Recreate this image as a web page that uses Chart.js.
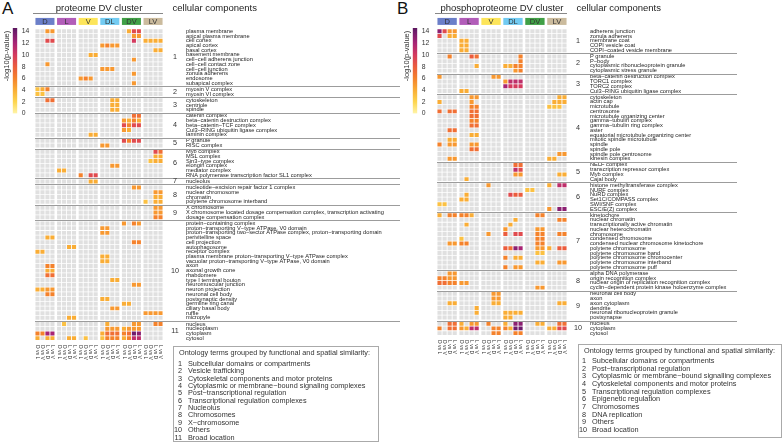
<!DOCTYPE html>
<html>
<head>
<meta charset="utf-8">
<script src="https://cdn.jsdelivr.net/npm/chart.js@4.4.1/dist/chart.umd.min.js"></script>
<style>
  body { margin: 0; width: 782px; height: 442px; position: relative; overflow: hidden; background: #fff;
         font-family: "Liberation Sans", Arial, sans-serif; color: #333; }
  canvas { position: absolute; }
  .letter { position: absolute; top: -1px; font-size: 17px; color: #111; }
  .legend { position: absolute; border: 1px solid #aaa; box-sizing: border-box; font-size: 7.3px; color: #333; }
  .legend .t { position: absolute; left: 5px; top: 1px; line-height: 10px; white-space: nowrap; }
  .legend .it { position: absolute; left: 0; line-height: 8px; white-space: nowrap; }
  .legend .n { display: inline-block; text-align: right; }
</style>
</head>
<body>
<div class="letter" style="left:2px">A</div>
<div class="letter" style="left:397px">B</div>
<canvas id="heatA" width="400" height="370" style="left:0;top:0"></canvas>
<canvas id="heatB" width="382" height="370" style="left:400px;top:0"></canvas>
<canvas id="barA" width="40" height="104" style="left:0;top:18px"></canvas>
<canvas id="barB" width="40" height="104" style="left:400px;top:18px"></canvas>
<div class="legend" id="legA" style="left:173px;top:346px;width:206px;height:96px"></div>
<div class="legend" id="legB" style="left:578px;top:344px;width:204px;height:94px"></div>
<script>
const FONT = '"Liberation Sans", Arial, sans-serif';
const _ = null;

// clusters and the four comparisons under each cluster
const CLUSTERS = ['D', 'L', 'V', 'DL', 'DV', 'LV'];
const CLUSTER_FILL = ['#6b7fc9', '#b25db9', '#fde55a', '#72cbf2', '#40a046', '#cbbb9d'];
const SUB_LABELS = ['D vs L', 'D vs V', 'L vs D', 'L vs V'];
const COLUMN_LABELS = CLUSTERS.flatMap(() => SUB_LABELS);

// colour bar
const CB_TICKS = [0, 2, 4, 6, 8, 10, 12, 14];
const CB_MAX = 14.6;
const COLOR_STOPS = [
  [0, '#fff4a8'], [2, '#fdd54f'], [4, '#f9ad36'], [6, '#f4822c'], [8, '#eb5c3d'],
  [10, '#d43a5e'], [12, '#a82475'], [14, '#6e1c6c'], [14.6, '#5a165c']
];

// ---------- proteome (A) ----------
const GROUPS_A = [12, 2, 3, 5, 2, 6, 1, 4, 3, 21, 4];
const TERMS_A = [
  'plasma membrane', 'apical plasma membrane', 'cell cortex', 'apical cortex', 'basal cortex', 'basement membrane',
  'cell\u2212cell adherens junction', 'cell\u2212cell contact zone', 'cell\u2212cell junction', 'zonula adherens', 'endosome', 'subapical complex',
  'myosin V complex', 'myosin VI complex',
  'cytoskeleton', 'centriole', 'spindle',
  'catenin complex', 'beta\u2212catenin destruction complex', 'beta\u2212catenin\u2212TCF complex', 'Cul3\u2212RING ubiquitin ligase complex', 'laminin complex',
  'P granule', 'RISC complex',
  'Myb complex', 'MSL complex', 'Sin3\u2212type complex', 'elongin complex', 'mediator complex', 'RNA polymerase transcription factor SL1 complex',
  'nucleolus',
  'nucleotide\u2212excision repair factor 1 complex', 'nuclear chromosome', 'chromatin', 'polytene chromosome interband',
  'X chromosome', 'X chromosome located dosage compensation complex, transcription activating', 'dosage compensation complex',
  'protein\u2212containing complex', 'proton\u2212transporting V\u2212type ATPase, V0 domain',
  'proton\u2212transporting two\u2212sector ATPase complex, proton\u2212transporting domain', 'perivitelline space', 'cell projection',
  'autophagosome', 'receptor complex', 'plasma membrane proton\u2212transporting V\u2212type ATPase complex',
  'vacuolar proton\u2212transporting V\u2212type ATPase, V0 domain', 'axon', 'axonal growth cone', 'rhabdomere', 'type I terminal bouton',
  'neuromuscular junction', 'neuron projection', 'neuronal cell body', 'postsynaptic density', 'germline ring canal',
  'ciliary basal body', 'ruffle', 'micropyle',
  'nucleus', 'nucleoplasm', 'cytoplasm', 'cytosol'
];
// [term, cluster, values of the four comparisons] ; null = not enriched (grey)
const HITS_A = [
  ['plasma membrane', 'D', [_, _, 5, 5]], ['plasma membrane', 'DV', [_, 4, 9, 9]],
  ['apical plasma membrane', 'DV', [_, _, 5, 5]],
  ['cell cortex', 'D', [_, _, 9, 9]], ['cell cortex', 'DV', [_, _, 10, _]], ['cell cortex', 'LV', [4, 4, 4, 4]],
  ['apical cortex', 'DL', [5, 6, 5, 5]],
  ['basal cortex', 'LV', [_, _, 4, 4]],
  ['basement membrane', 'V', [_, _, 4, 4]],
  ['cell\u2212cell adherens junction', 'DV', [_, _, 5, _]],
  ['cell\u2212cell contact zone', 'D', [_, _, 5, _]],
  ['cell\u2212cell junction', 'DL', [5, 5, 5, _]],
  ['zonula adherens', 'DV', [_, _, 5, _]],
  ['endosome', 'V', [5, 6, 5, _]],
  ['subapical complex', 'DV', [_, _, 5, _]],
  ['myosin V complex', 'D', [3, 4, 6, _]],
  ['myosin VI complex', 'D', [3, 3, _, _]],
  ['cytoskeleton', 'D', [_, _, 7, 7]], ['cytoskeleton', 'DL', [_, _, 4, 4]],
  ['centriole', 'DL', [_, _, 4, 4]],
  ['spindle', 'DL', [_, _, 4, 4]],
  ['catenin complex', 'DV', [_, _, 7, 7]],
  ['beta\u2212catenin destruction complex', 'DV', [5, 4, 6, 4]],
  ['beta\u2212catenin\u2212TCF complex', 'DV', [9, 6, 9, 9]],
  ['Cul3\u2212RING ubiquitin ligase complex', 'DV', [5, 4, _, _]],
  ['laminin complex', 'V', [_, _, 4, 4]],
  ['P granule', 'DV', [9, 6, 9, 9]],
  ['RISC complex', 'DL', [5, 5, _, _]],
  ['Myb complex', 'LV', [_, _, 9, 7]],
  ['MSL complex', 'LV', [_, _, 4, 4]],
  ['Sin3\u2212type complex', 'LV', [_, 3, 4, 4]],
  ['elongin complex', 'DL', [_, _, 5, 5]],
  ['mediator complex', 'L', [4, 4, _, _]],
  ['RNA polymerase transcription factor SL1 complex', 'V', [6, _, 9, 9]],
  ['nucleolus', 'V', [_, _, 4, 4]],
  ['nucleotide\u2212excision repair factor 1 complex', 'DV', [_, _, 5, 5]],
  ['nuclear chromosome', 'LV', [_, _, 5, 5]],
  ['chromatin', 'LV', [_, _, 4, 4]],
  ['polytene chromosome interband', 'LV', [3, _, 4, 4]],
  ['X chromosome', 'LV', [_, _, 5, 5]],
  ['X chromosome located dosage compensation complex, transcription activating', 'LV', [_, _, 5, 5]],
  ['dosage compensation complex', 'LV', [_, _, 6, 6]],
  ['protein\u2212containing complex', 'DV', [5, _, 6, 5]],
  ['proton\u2212transporting V\u2212type ATPase, V0 domain', 'DL', [5, 5, _, _]],
  ['proton\u2212transporting two\u2212sector ATPase complex, proton\u2212transporting domain', 'DL', [5, 5, _, _]],
  ['perivitelline space', 'D', [_, _, 4, 4]],
  ['cell projection', 'DV', [_, _, 6, 6]],
  ['autophagosome', 'L', [_, _, 4, 4]],
  ['receptor complex', 'D', [4, 4, _, _]],
  ['plasma membrane proton\u2212transporting V\u2212type ATPase complex', 'DL', [4, 4, _, _]],
  ['vacuolar proton\u2212transporting V\u2212type ATPase, V0 domain', 'DL', [4, 4, _, _]],
  ['axon', 'D', [_, _, 6, 6]],
  ['axonal growth cone', 'D', [_, _, 4, 4]],
  ['rhabdomere', 'D', [_, _, 7, 7]],
  ['type I terminal bouton', 'DL', [_, _, 4, 4]],
  ['neuromuscular junction', 'DV', [_, _, 5, 5]],
  ['neuron projection', 'D', [4, 4, 5, 5]],
  ['neuronal cell body', 'D', [_, _, 6, 6]],
  ['postsynaptic density', 'DL', [4, 4, _, _]],
  ['germline ring canal', 'DV', [4, 4, _, _]],
  ['ciliary basal body', 'DL', [_, _, 5, 5]],
  ['ruffle', 'LV', [5, 5, 5, 5]],
  ['micropyle', 'L', [_, _, 4, 4]],
  ['nucleus', 'L', [_, 3, _, _]], ['nucleus', 'DL', [_, 4, _, _]], ['nucleus', 'DV', [_, _, 5, 5]], ['nucleus', 'LV', [_, _, 6, 6]],
  ['nucleoplasm', 'DL', [_, 5, 5, 5]], ['nucleoplasm', 'DV', [4, 5, 5, 5]],
  ['cytoplasm', 'D', [6, 6, 12, 12]], ['cytoplasm', 'DL', [4, 7, 7, 7]], ['cytoplasm', 'DV', [6, 7, 14, 13]],
  ['cytosol', 'D', [4, _, 4, 4]], ['cytosol', 'L', [_, _, 4, 4]], ['cytosol', 'V', [_, 3, _, _]],
  ['cytosol', 'DL', [3, 6, 6, 6]], ['cytosol', 'DV', [4, 6, 11, 11]]
];
const LEGEND_A = [
  'Subcellular domains or compartments', 'Vesicle trafficking', 'Cytoskeletal components and motor proteins',
  'Cytoplasmic or membrane\u2212bound signaling complexes', 'Post\u2212transcriptional regulation',
  'Transcriptional regulation complexes', 'Nucleolus', 'Chromosomes', 'X\u2212chromosome', 'Others', 'Broad location'
];

// ---------- phosphoproteome (B) ----------
const GROUPS_B = [5, 4, 4, 14, 4, 6, 12, 4, 6, 3];
const TERMS_B = [
  'adherens junction', 'zonula adherens', 'membrane coat', 'COPI vesicle coat', 'COPI\u2212coated vesicle membrane',
  'P granule', 'P\u2212body', 'cytoplasmic ribonucleoprotein granule', 'cytoplasmic stress granule',
  'beta\u2212catenin destruction complex', 'TORC1 complex', 'TORC2 complex', 'Cul3\u2212RING ubiquitin ligase complex',
  'cytoskeleton', 'actin cap', 'microtubule', 'centrosome', 'microtubule organizing center', 'gamma\u2212tubulin complex',
  'gamma\u2212tubulin ring complex', 'aster', 'equatorial microtubule organizing center', 'mitotic spindle microtubule',
  'spindle', 'spindle pole', 'spindle pole centrosome', 'kinesin complex',
  'NELF complex', 'transcription repressor complex', 'Myb complex', 'Cajal body',
  'histone methyltransferase complex', 'NURF complex', 'NuRD complex', 'Set1C/COMPASS complex', 'SWI/SNF complex', 'ESC/E(Z) complex',
  'kinetochore', 'nuclear chromatin', 'transcriptionally active chromatin', 'nuclear heterochromatin', 'chromosome',
  'condensed chromosome', 'condensed nuclear chromosome kinetochore', 'polytene chromosome', 'polytene chromosome band',
  'polytene chromosome chromocenter', 'polytene chromosome interband', 'polytene chromosome puff',
  'alpha DNA polymerase', 'origin recognition complex', 'nuclear origin of replication recognition complex',
  'cyclin\u2212dependent protein kinase holoenzyme complex',
  'neuronal cell body', 'axon', 'axon cytoplasm', 'dendrite', 'neuronal ribonucleoprotein granule', 'postsynapse',
  'nucleus', 'cytoplasm', 'cytosol'
];
const HITS_B = [
  ['adherens junction', 'D', [13, 9, 5, 5]],
  ['zonula adherens', 'D', [9, _, 4, 4]],
  ['membrane coat', 'L', [4, 4, _, _]],
  ['COPI vesicle coat', 'L', [4, 4, _, _]],
  ['COPI\u2212coated vesicle membrane', 'L', [4, 4, _, _]],
  ['P granule', 'D', [_, _, 6, _]], ['P granule', 'L', [_, _, 8, 7]], ['P granule', 'DL', [_, _, _, 6]],
  ['P\u2212body', 'DL', [_, _, _, 6]],
  ['cytoplasmic ribonucleoprotein granule', 'L', [_, _, _, 4]], ['cytoplasmic ribonucleoprotein granule', 'DL', [4, 4, 6, 6]],
  ['cytoplasmic stress granule', 'DL', [_, _, 5, 6]],
  ['beta\u2212catenin destruction complex', 'D', [5, _, _, _]], ['beta\u2212catenin destruction complex', 'V', [_, _, 5, 5]],
  ['TORC1 complex', 'DL', [5, 11, 11, 11]],
  ['TORC2 complex', 'DL', [12, 10, 10, 10]],
  ['Cul3\u2212RING ubiquitin ligase complex', 'L', [4, 4, _, _]],
  ['cytoskeleton', 'L', [_, _, 5, 5]], ['cytoskeleton', 'LV', [_, _, 4, 4]],
  ['actin cap', 'D', [4, _, _, _]], ['actin cap', 'L', [_, _, 5, _]], ['actin cap', 'LV', [_, 4, 4, 4]],
  ['microtubule', 'L', [_, _, 6, 6]], ['microtubule', 'LV', [3, 3, 3, _]],
  ['centrosome', 'D', [7, _, 7, 7]], ['centrosome', 'L', [_, _, 7, 7]],
  ['microtubule organizing center', 'L', [_, _, 7, 7]],
  ['gamma\u2212tubulin complex', 'L', [_, _, 6, 6]],
  ['gamma\u2212tubulin ring complex', 'L', [_, _, 7, 7]],
  ['aster', 'D', [_, _, 7, 7]],
  ['equatorial microtubule organizing center', 'L', [_, _, 4, 4]],
  ['mitotic spindle microtubule', 'D', [_, _, 4, 4]],
  ['spindle', 'D', [6, _, 5, 5]], ['spindle', 'L', [_, _, 5, 5]],
  ['spindle pole', 'L', [_, _, 7, 7]],
  ['spindle pole centrosome', 'LV', [_, _, 5, 5]],
  ['kinesin complex', 'D', [_, _, 5, 5]], ['kinesin complex', 'LV', [4, 4, _, _]],
  ['NELF complex', 'DL', [_, _, 7, 7]],
  ['transcription repressor complex', 'DL', [_, _, 11, 9]],
  ['Myb complex', 'DL', [_, _, 5, 5]], ['Myb complex', 'LV', [_, _, 4, 4]],
  ['Cajal body', 'L', [_, 4, _, _]],
  ['histone methyltransferase complex', 'V', [_, 5, _, _]], ['histone methyltransferase complex', 'LV', [4, _, 11, 11]],
  ['NURF complex', 'DV', [3, 3, _, _]],
  ['NuRD complex', 'L', [_, 4, _, _]], ['NuRD complex', 'DL', [_, 9, 8, 8]],
  ['Set1C/COMPASS complex', 'L', [4, 4, _, _]],
  ['SWI/SNF complex', 'D', [3, 3, _, _]],
  ['ESC/E(Z) complex', 'LV', [5, _, 13, 13]],
  ['kinetochore', 'D', [4, _, 6, 6]], ['kinetochore', 'L', [6, 6, 4, _]], ['kinetochore', 'DV', [_, _, 6, 6]],
  ['nuclear chromatin', 'DL', [_, _, 4, _]], ['nuclear chromatin', 'LV', [_, _, 6, 6]],
  ['transcriptionally active chromatin', 'L', [_, 4, _, _]], ['transcriptionally active chromatin', 'DL', [_, 4, _, _]],
  ['nuclear heterochromatin', 'DL', [5, _, _, _]], ['nuclear heterochromatin', 'DV', [_, _, 5, 5]],
  ['chromosome', 'V', [_, 5, _, _]], ['chromosome', 'DL', [8, _, 9, 9]], ['chromosome', 'DV', [_, _, 6, 6]], ['chromosome', 'LV', [_, _, 6, 6]],
  ['condensed chromosome', 'L', [3, _, _, _]], ['condensed chromosome', 'DV', [_, _, 6, 6]],
  ['condensed nuclear chromosome kinetochore', 'D', [_, _, 5, 5]], ['condensed nuclear chromosome kinetochore', 'L', [6, 6, _, _]],
  ['condensed nuclear chromosome kinetochore', 'DV', [_, _, 6, 6]],
  ['polytene chromosome', 'DL', [8, 7, 13, 12]], ['polytene chromosome', 'DV', [_, _, 5, 5]], ['polytene chromosome', 'LV', [4, _, 8, 8]],
  ['polytene chromosome band', 'DV', [_, _, 3, 3]],
  ['polytene chromosome chromocenter', 'DL', [6, _, 4, 4]],
  ['polytene chromosome interband', 'DV', [_, _, 4, 4]], ['polytene chromosome interband', 'LV', [_, _, 5, 5]],
  ['polytene chromosome puff', 'DL', [6, _, 5, 5]],
  ['alpha DNA polymerase', 'D', [_, _, 5, 5]],
  ['origin recognition complex', 'D', [6, 6, 5, 5]],
  ['nuclear origin of replication recognition complex', 'D', [7, 7, 6, 6]], ['nuclear origin of replication recognition complex', 'L', [5, 5, _, _]],
  ['cyclin\u2212dependent protein kinase holoenzyme complex', 'DV', [_, _, 5, 5]],
  ['neuronal cell body', 'V', [_, _, 5, 5]],
  ['axon', 'V', [_, _, 5, 5]],
  ['axon cytoplasm', 'D', [_, _, 4, 4]], ['axon cytoplasm', 'V', [_, _, 4, 4]], ['axon cytoplasm', 'LV', [_, _, 4, 4]],
  ['dendrite', 'L', [_, _, _, 4]],
  ['neuronal ribonucleoprotein granule', 'L', [_, _, _, 4]], ['neuronal ribonucleoprotein granule', 'DL', [4, 4, 4, 4]],
  ['postsynapse', 'DL', [4, 4, _, _]],
  ['nucleus', 'D', [_, _, 7, 7]], ['nucleus', 'L', [4, _, 5, 5]], ['nucleus', 'V', [_, 6, _, _]],
  ['nucleus', 'DL', [4, _, 13, 13]], ['nucleus', 'DV', [_, _, 4, 4]], ['nucleus', 'LV', [_, _, 7, 7]],
  ['cytoplasm', 'D', [6, _, 7, 7]], ['cytoplasm', 'L', [5, 4, 11, 11]], ['cytoplasm', 'V', [_, _, 6, 6]],
  ['cytoplasm', 'DL', [6, 4, 14, 14]], ['cytoplasm', 'LV', [4, 4, 9, 9]],
  ['cytosol', 'V', [_, _, 6, 6]], ['cytosol', 'DL', [_, _, 6, 6]]
];
const LEGEND_B = [
  'Subcellular domains or compartments', 'Post\u2212transcriptional regulation',
  'Cytoplasmic or membrane\u2212bound signalling complexes', 'Cytoskeletal components and motor proteins',
  'Transcriptional regulation complexes', 'Epigenetic regulation', 'Chromosomes', 'DNA replication', 'Others', 'Broad location'
];

// ---------- helpers ----------
const GREY = '#e0e0e0';
const GROUP_GAP = 0.3;      // extra space between ontology groups (in rows)
const CLUSTER_PITCH = 4.34; // column units per cluster (4 cells + gap)
const HALF = 0.41;          // half cell width in column units

function hexToRgb(h) {
  const n = parseInt(h.slice(1), 16);
  return [(n >> 16) & 255, (n >> 8) & 255, n & 255];
}
function cellColor(v) {
  if (v === null || v === undefined) return GREY;
  for (let i = 1; i < COLOR_STOPS.length; i++) {
    const [v1, c1] = COLOR_STOPS[i];
    const [v0, c0] = COLOR_STOPS[i - 1];
    if (v <= v1) {
      const t = (v - v0) / (v1 - v0);
      const a = hexToRgb(c0), b = hexToRgb(c1);
      const m = a.map((x, k) => Math.round(x + (b[k] - x) * t));
      return `rgb(${m[0]},${m[1]},${m[2]})`;
    }
  }
  return COLOR_STOPS[COLOR_STOPS.length - 1][1];
}
function buildMatrix(terms, hits) {
  const m = terms.map(() => COLUMN_LABELS.map(() => null));
  hits.forEach(([term, cl, vals]) => {
    const i = terms.indexOf(term);
    const k = CLUSTERS.indexOf(cl);
    if (i < 0 || k < 0) { console.warn('unknown', term, cl); return; }
    vals.forEach((v, j) => { if (v !== null) m[i][k * 4 + j] = v; });
  });
  return m;
}

function drawHeatmap(id, cfg) {
  const { terms, groups, matrix } = cfg;
  const rowPos = [];
  let p = 0;
  groups.forEach(n => { for (let i = 0; i < n; i++) rowPos.push(p++); p += GROUP_GAP; });
  const colPos = COLUMN_LABELS.map((lab, c) => Math.floor(c / 4) * CLUSTER_PITCH + (c % 4));

  const datasets = colPos.map((cx, c) => ({
    data: terms.map((t, i) => ({ y: rowPos[i], x: [cx - HALF, cx + HALF] })),
    backgroundColor: terms.map((t, i) => cellColor(matrix[i][c])),
    borderWidth: 0
  }));

  const deco = {
    id: 'deco',
    afterDraw(chart) {
      const { ctx, chartArea: a, scales: { x, y } } = chart;
      ctx.save();
      // separators and group numbers
      let start = 0;
      groups.forEach((n, g) => {
        const first = rowPos[start], last = rowPos[start + n - 1];
        ctx.fillStyle = '#333';
        ctx.font = `7.2px ${FONT}`;
        ctx.textAlign = 'center';
        ctx.textBaseline = 'middle';
        ctx.fillText(String(g + 1), a.right + cfg.numOffset, y.getPixelForValue((first + last) / 2));
        if (g < groups.length - 1) {
          const yy = Math.round(y.getPixelForValue(last + 0.5 + GROUP_GAP / 2)) + 0.5;
          ctx.strokeStyle = '#9c9c9c';
          ctx.lineWidth = 1;
          ctx.beginPath(); ctx.moveTo(a.left, yy); ctx.lineTo(cfg.lineEnd, yy); ctx.stroke();
        }
        start += n;
      });
      // cluster header boxes
      CLUSTERS.forEach((cl, k) => {
        const x0 = x.getPixelForValue(colPos[k * 4] - HALF);
        const x1 = x.getPixelForValue(colPos[k * 4 + 3] + HALF);
        ctx.fillStyle = CLUSTER_FILL[k];
        ctx.fillRect(x0, a.top - 8.5, x1 - x0, 7);
        ctx.fillStyle = '#333';
        ctx.font = `7.5px ${FONT}`;
        ctx.textAlign = 'center';
        ctx.textBaseline = 'middle';
        ctx.fillText(cl, (x0 + x1) / 2, a.top - 4.8);
      });
      // title + rule
      ctx.fillStyle = '#222';
      ctx.font = `9.5px ${FONT}`;
      ctx.textAlign = 'center';
      ctx.textBaseline = 'middle';
      ctx.fillText(cfg.title, (a.left + a.right) / 2, 8.5);
      ctx.strokeStyle = '#888';
      ctx.lineWidth = 1;
      ctx.beginPath(); ctx.moveTo(a.left - 2, 13.5); ctx.lineTo(a.right, 13.5); ctx.stroke();
      ctx.textAlign = 'left';
      ctx.fillText('cellular components', a.right + 9.5, 8.5);
      // comparison labels under columns
      ctx.font = `5px ${FONT}`;
      ctx.fillStyle = '#333';
      ctx.textBaseline = 'middle';
      ctx.textAlign = 'left';
      colPos.forEach((cx, c) => {
        ctx.save();
        ctx.translate(x.getPixelForValue(cx), a.bottom + 2);
        ctx.rotate(Math.PI / 2);
        ctx.fillText(COLUMN_LABELS[c], 0, 0);
        ctx.restore();
      });
      ctx.restore();
    }
  };

  return new Chart(document.getElementById(id), {
    type: 'bar',
    data: { datasets },
    options: {
      indexAxis: 'y',
      responsive: false,
      animation: false,
      events: [],
      datasets: { bar: { grouped: false, categoryPercentage: 1, barPercentage: 0.84 } },
      layout: { padding: { left: cfg.padLeft, top: 23, right: 0, bottom: cfg.padBottom } },
      plugins: { legend: { display: false }, tooltip: { enabled: false } },
      scales: {
        x: { type: 'linear', display: false, min: -0.5, max: colPos[colPos.length - 1] + 0.5 },
        y: {
          type: 'linear', position: 'right', reverse: true,
          min: -0.5, max: rowPos[rowPos.length - 1] + 0.5,
          afterBuildTicks: s => { s.ticks = rowPos.map(v => ({ value: v })); },
          afterFit: s => { s.width = cfg.axisWidth; },
          grid: { display: false, drawTicks: false },
          border: { display: false },
          ticks: {
            autoSkip: false, padding: 23, color: '#1e1e1e',
            font: { family: FONT, size: 5.7 },
            callback: (v, i) => terms[i]
          }
        }
      }
    },
    plugins: [deco]
  });
}

function drawColorBar(id) {
  const titlePlugin = {
    id: 'cbTitle',
    afterDraw(chart) {
      const { ctx } = chart;
      ctx.save();
      ctx.translate(6.5, 38);
      ctx.rotate(-Math.PI / 2);
      ctx.fillStyle = '#333';
      ctx.font = `7.5px ${FONT}`;
      ctx.textAlign = 'center';
      ctx.textBaseline = 'middle';
      ctx.fillText('-log10(p-value)', 0, 0);
      ctx.restore();
    }
  };
  return new Chart(document.getElementById(id), {
    type: 'bar',
    data: {
      labels: [''],
      datasets: [{
        data: [[0, CB_MAX]],
        borderWidth: 0,
        backgroundColor: ctx => {
          const a = ctx.chart.chartArea;
          if (!a) return GREY;
          const y = ctx.chart.scales.y;
          const g = ctx.chart.ctx.createLinearGradient(0, y.getPixelForValue(0), 0, y.getPixelForValue(CB_MAX));
          COLOR_STOPS.forEach(([v, c]) => g.addColorStop(v / CB_MAX, c));
          return g;
        }
      }]
    },
    options: {
      responsive: false,
      animation: false,
      events: [],
      datasets: { bar: { categoryPercentage: 1, barPercentage: 1 } },
      layout: { padding: { left: 12.7, top: 10, right: 0, bottom: 6.5 } },
      plugins: { legend: { display: false }, tooltip: { enabled: false } },
      scales: {
        x: { display: false },
        y: {
          position: 'right', min: 0, max: CB_MAX,
          afterBuildTicks: s => { s.ticks = CB_TICKS.map(v => ({ value: v })); },
          afterFit: s => { s.width = 22.7; },
          grid: { display: false, drawTicks: false },
          border: { display: false },
          ticks: { padding: 4.4, color: '#333', font: { family: FONT, size: 6.8 } }
        }
      }
    },
    plugins: [titlePlugin]
  });
}

function fillLegend(id, items, itemTop, step) {
  const el = document.getElementById(id);
  let html = '<div class="t">Ontology terms grouped by functional and spatial similarity:</div>';
  items.forEach((txt, i) => {
    html += `<div class="it" style="top:${itemTop + i * step}px"><span class="n" style="width:${id === 'legA' ? 8 : 7}px">${i + 1}</span>` +
            `<span style="margin-left:6px">${txt}</span></div>`;
  });
  el.innerHTML = html;
}

drawHeatmap('heatA', {
  terms: TERMS_A, groups: GROUPS_A, matrix: buildMatrix(TERMS_A, HITS_A),
  title: 'proteome DV cluster', padLeft: 35, padBottom: 27, axisWidth: 237, numOffset: 12, lineEnd: 400
});
drawHeatmap('heatB', {
  terms: TERMS_B, groups: GROUPS_B, matrix: buildMatrix(TERMS_B, HITS_B),
  title: 'phosphoproteome DV cluster', padLeft: 37, padBottom: 32, axisWidth: 215, numOffset: 11, lineEnd: 337
});
drawColorBar('barA');
drawColorBar('barB');
fillLegend('legA', LEGEND_A, 13, 7.35);
fillLegend('legB', LEGEND_B, 12, 7.65);
</script>
</body>
</html>
